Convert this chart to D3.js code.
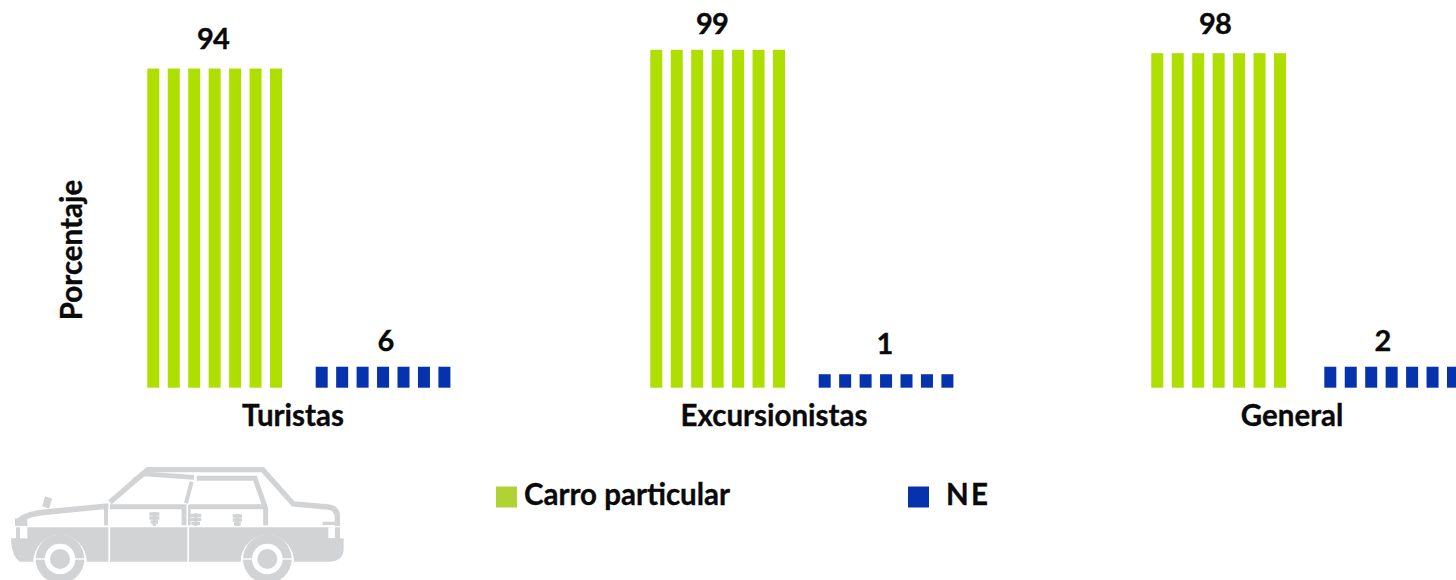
<!DOCTYPE html>
<html><head><meta charset="utf-8">
<script src="https://cdn.jsdelivr.net/npm/d3@7/dist/d3.min.js"></script>
<style>
html,body{margin:0;padding:0;background:#fff;overflow:hidden}
svg{display:block}
text{font-family:Lato,"Open Sans",sans-serif;font-weight:700;fill:#0a0a0a;stroke:#0a0a0a;stroke-width:0.35px}
</style></head><body>
<script>
// Data
const categories = ["Turistas", "Excursionistas", "General"];
const seriesNames = ["Carro particular", "N E"];
const carroLabels = ["94", "99", "98"];
const neLabels = ["6", "1", "2"];
// Bar heights (the N E bars are not drawn to the scale of their labels)
const carroHeights = [93.6, 99.1, 98.1];
const neHeights = [6.15, 3.95, 6.15];
const stripes = d3.range(7);

// Layout
const W = 1456, H = 580;
const colors = {carro:"#afdf00", ne:"#0633ad", legendCarro:"#b0d235", car:"#d2d3d5"};
const y = d3.scaleLinear().domain([0,100]).range([387.7,46.7]);
const carroX = d3.scaleOrdinal(categories,[147.3,650.3,1151.3]);
const neX = d3.scaleOrdinal(categories,[315.7,818.7,1324.3]);
const stripe = d3.scaleLinear().domain([0,1]).range([0,20.45]);
const stripeW = 12;
const catX = d3.scaleOrdinal(categories,[293,774,1292]);
const carroLabelX = d3.scaleOrdinal(categories,[213,712,1215]);
const carroLabelY = d3.scaleOrdinal(categories,[49,34,34]);
const neLabelX = d3.scaleOrdinal(categories,[386,885,1383]);
const neLabelY = d3.scaleOrdinal(categories,[351,354,351]);
const fs = 29.5, numFs = 29;

const svg = d3.select("body").append("svg").attr("width",W).attr("height",H).attr("viewBox",`0 0 ${W} ${H}`);

// Bars
function drawSeries(name, heights, xs, color){
  const g = svg.append("g").attr("class",name);
  categories.forEach((c,i)=>{
    g.selectAll(null).data(stripes).join("rect")
      .attr("x",s=>xs(c)+stripe(s)).attr("width",stripeW)
      .attr("y",y(heights[i])).attr("height",y(0)-y(heights[i]))
      .attr("fill",color);
  });
}
drawSeries("carro",carroHeights,carroX,colors.carro);
drawSeries("ne",neHeights,neX,colors.ne);

// Value labels
svg.append("g").selectAll("text").data(categories).join("text")
  .attr("x",c=>carroLabelX(c)).attr("y",c=>carroLabelY(c)).attr("text-anchor","middle").attr("font-size",numFs).attr("letter-spacing",-0.8)
  .text((c,i)=>carroLabels[i]);
svg.append("g").selectAll("text").data(categories).join("text")
  .attr("x",c=>neLabelX(c)).attr("y",c=>neLabelY(c)).attr("text-anchor","middle").attr("font-size",numFs)
  .text((c,i)=>neLabels[i]);

// Category labels
svg.append("g").selectAll("text").data(categories).join("text")
  .attr("x",c=>catX(c)).attr("y",426).attr("text-anchor","middle").attr("font-size",fs).text(c=>c);

// Y title
svg.append("text").attr("transform","translate(82,250) rotate(-90)").attr("text-anchor","middle").attr("font-size",fs).text("Porcentaje");

// Legend
svg.append("rect").attr("x",496).attr("y",486.5).attr("width",21).attr("height",21).attr("fill",colors.legendCarro);
svg.append("text").attr("x",524).attr("y",505).attr("font-size",fs).text(seriesNames[0]);
svg.append("rect").attr("x",908).attr("y",486.5).attr("width",21).attr("height",21).attr("fill",colors.ne);
svg.append("text").attr("x",946).attr("y",505).attr("font-size",fs).attr("word-spacing",-5).text(seriesNames[1]);

// Decorative car illustration
const car = svg.append("g").attr("transform","translate(0,450) scale(0.33333)");
const fills = [
 "M82,232 L325,232 L325,335 L100,335 L60,335 Q35,322 33,265 L48,265 L48,232 L60,232 L60,265 L82,265 Z",
 "M330,232 L562,232 L562,335 L330,335 Z",
 "M567,232 L1000,232 L1000,265 L1005,265 L1005,232 L1020,232 L1020,265 L1031,265 L1031,300 Q1028,335 985,335 L567,335 Z",
 "M45,228 L82,228 L82,205 L45,205 Z"
];
car.selectAll("path.f").data(fills).join("path").attr("class","f").attr("d",d=>d).attr("fill",colors.car);
// tail-light gap at the rear
car.append("rect").attr("x",985).attr("y",232).attr("width",18).attr("height",32).attr("fill","#fff");
const strokes = [
 ["M330,157 L443,59 L788,59 L880,162 L985,171 Q1012,175 1012,200 L1012,228",16],
 ["M400,92 L432,72 L582,82",14],
 ["M590,85 L765,85 L797,175 L797,226",15],
 ["M575,95 L558,160",12],
 ["M330,170 L552,170 L552,226",15],
 ["M568,170 L790,170",15],
 ["M325,168 L130,187 Q62,195 52,222",17],
 ["M318,165 L318,226",12],
 ["M146,142 L137,172",22],
 ["M968,220 L1012,220",10],
 ["M568,165 L568,226",8]
];
car.selectAll("path.s").data(strokes).join("path").attr("class","s").attr("d",d=>d[0]).attr("fill","none").attr("stroke",colors.car).attr("stroke-width",d=>d[1]);
// kanji-like marks on the doors
const marks = [[448,186,30,42],[570,190,34,38],[698,192,28,36]];
car.selectAll("path.m").data(marks).join("path").attr("class","m")
  .attr("d",d=>`M${d[0]},${d[1]+6}h${d[2]}M${d[0]},${d[1]+18}h${d[2]}M${d[0]+4},${d[1]+30}h${d[2]-8}M${d[0]+d[2]/2},${d[1]}v${d[3]}`)
  .attr("fill","none").attr("stroke",colors.car).attr("stroke-width",10);
// wheels
[[180,327],[802,327]].forEach(([cx,cy])=>{
  car.append("path").attr("d",`M${cx-80},${cy+8} A80,80 0 0 1 ${cx+80},${cy+8} Z`).attr("fill","#fff");
  car.append("circle").attr("cx",cx).attr("cy",cy).attr("r",73).attr("fill",colors.car);
  car.append("rect").attr("x",cx-76).attr("y",cy-2).attr("width",152).attr("height",4).attr("fill","#fff");
  car.append("circle").attr("cx",cx).attr("cy",cy).attr("r",46).attr("fill","#fff");
  car.append("circle").attr("cx",cx).attr("cy",cy).attr("r",30).attr("fill",colors.car);
});
</script>
</body></html>
